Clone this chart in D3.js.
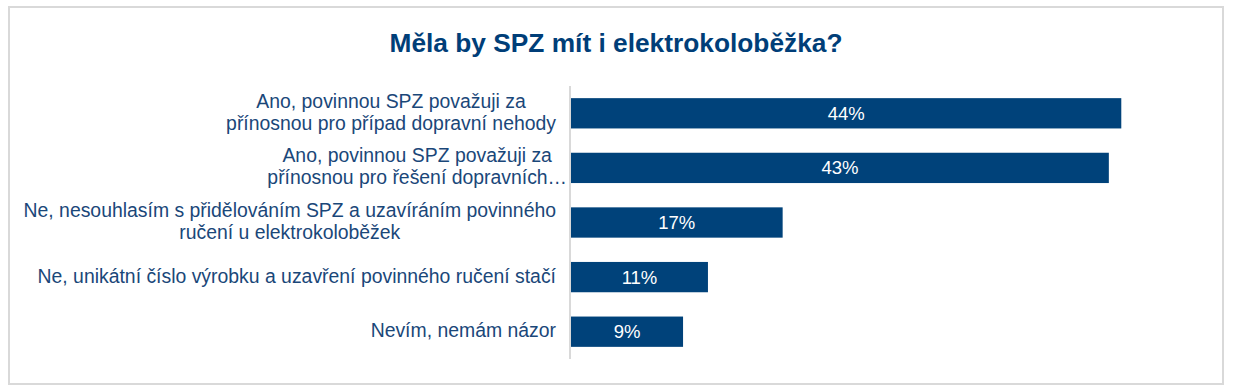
<!DOCTYPE html>
<html>
<head>
<meta charset="utf-8">
<script src="https://cdn.jsdelivr.net/npm/d3@7"></script>
<style>
  html, body { margin: 0; padding: 0; background: #ffffff; }
  svg { display: block; }
</style>
</head>
<body>
<svg id="chart" width="1233" height="392"></svg>
<script>
const title = "Měla by SPZ mít i elektrokoloběžka?";
const categories = [
  ["Ano, povinnou SPZ považuji za", "přínosnou pro případ dopravní nehody"],
  ["Ano, povinnou SPZ považuji za ", "přínosnou pro řešení dopravních…"],
  ["Ne, nesouhlasím s přidělováním SPZ a uzavíráním povinného", "ručení u elektrokoloběžek"],
  ["Ne, unikátní číslo výrobku a uzavření povinného ručení stačí"],
  ["Nevím, nemám názor"]
];
const values = [44.2, 43.2, 17.0, 11.0, 9.0];

const W = 1233, H = 392;
const barColor = "#00427A";
const titleColor = "#003E78";
const labelColor = "#1A4779";
const font = "'Liberation Sans', Arial, sans-serif";

const svg = d3.select("#chart");

// outer frame
svg.append("rect")
  .attr("x", 9).attr("y", 7)
  .attr("width", 1214).attr("height", 377)
  .attr("fill", "#ffffff")
  .attr("stroke", "#D9D9D9").attr("stroke-width", 2);

// title
svg.append("text")
  .attr("x", 616).attr("y", 52)
  .attr("text-anchor", "middle")
  .attr("font-family", font).attr("font-weight", "bold")
  .attr("font-size", 26.3).attr("fill", titleColor)
  .text(title);

const idx = categories.map((d, i) => i);
const y = d3.scaleBand().domain(idx).range([86, 359]).paddingInner(0.445).paddingOuter(0.2225);
const x = d3.scaleLinear().domain([0, 50]).range([571, 1193.5]);

// bars
svg.append("g").selectAll("rect").data(values).join("rect")
  .attr("x", x(0))
  .attr("y", (d, i) => y(i))
  .attr("width", d => x(d) - x(0))
  .attr("height", y.bandwidth())
  .attr("fill", barColor);

// data labels
svg.append("g").selectAll("text").data(values).join("text")
  .attr("x", d => (x(0) + x(d)) / 2)
  .attr("y", (d, i) => y(i) + y.bandwidth() / 2 + 6.5)
  .attr("text-anchor", "middle")
  .attr("font-family", font).attr("font-size", 18.5)
  .attr("fill", "#ffffff")
  .text(d => Math.round(d) + "%");

// axis line (left category axis)
const axis = d3.axisLeft(y).tickSize(0).tickFormat("");
const ag = svg.append("g").attr("transform", "translate(570,0)").call(axis);
ag.select(".domain").attr("stroke", "#D9D9D9").attr("stroke-width", 2)
  .attr("d", `M0,${y.range()[0]}V${y.range()[1]}`);

// category labels: multi-line, lines centred within block, block right-aligned
const lineH = 22;
const rightEdge = 556;
const lg = svg.append("g");
categories.forEach((lines, i) => {
  const cy = y(i) + y.bandwidth() / 2;
  const g = lg.append("g");
  const texts = lines.map((ln, j) => g.append("text")
    .attr("font-family", font).attr("font-size", 19.4)
    .attr("fill", labelColor)
    .attr("text-anchor", "middle")
    .attr("y", cy + 5.5 + (j - (lines.length - 1) / 2) * lineH)
    .text(ln));
  const widths = texts.map(t => t.node().getComputedTextLength());
  const truncated = lines.some(l => l.endsWith("…"));
  const maxW = d3.max(widths);
  const center = truncated ? (rightEdge + 11) - maxW / 2 : rightEdge - maxW / 2;
  texts.forEach(t => t.attr("x", center));
});
</script>
</body>
</html>
